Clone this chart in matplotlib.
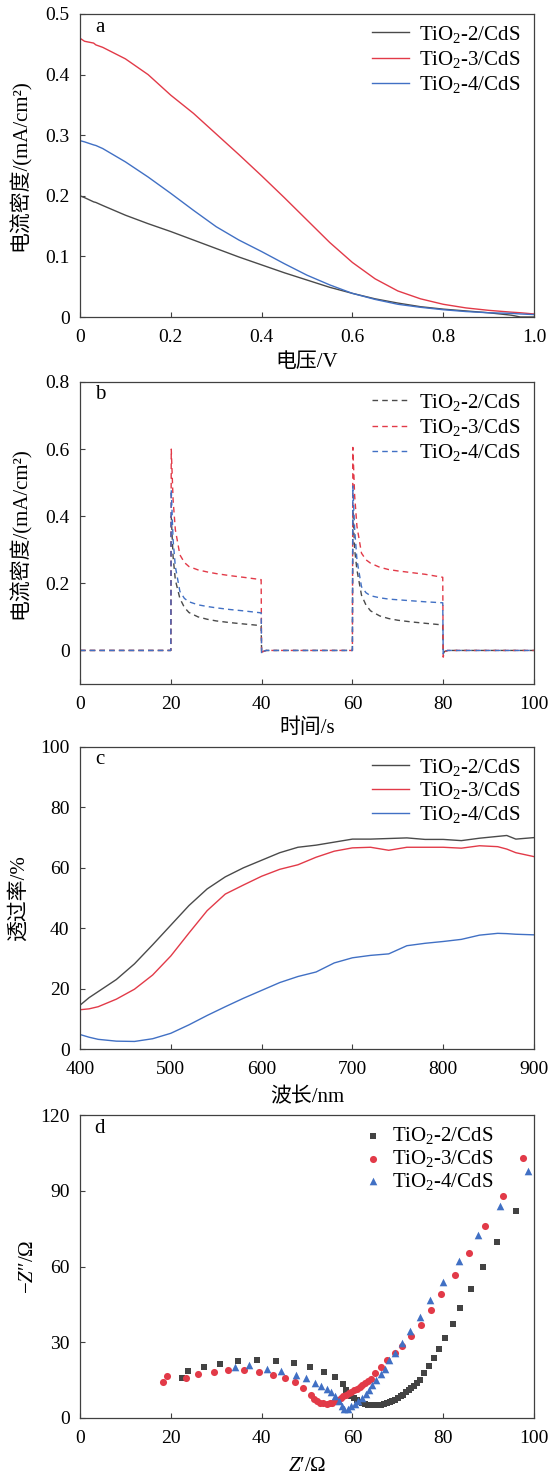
import matplotlib
matplotlib.use("Agg")
import matplotlib.pyplot as plt

plt.rcParams['font.family'] = ['Liberation Serif', 'Noto Sans CJK SC']
plt.rcParams['mathtext.fontset'] = 'custom'
plt.rcParams['mathtext.rm'] = 'Liberation Serif'
plt.rcParams['mathtext.it'] = 'Liberation Serif:italic'
plt.rcParams['font.size'] = 14
plt.rcParams['axes.unicode_minus'] = True

labels = ['TiO$_2$-2/CdS', 'TiO$_2$-3/CdS', 'TiO$_2$-4/CdS']

# ---- panel a : J-V ----
va = [0, 0.01, 0.03, 0.035, 0.05, 0.1, 0.15, 0.2, 0.25, 0.3, 0.35, 0.4, 0.45, 0.5, 0.55, 0.6, 0.65, 0.7, 0.75, 0.8, 0.85, 0.9, 0.95, 0.97, 1.0]
ja_2 = [0.200, 0.197, 0.190, 0.189, 0.184, 0.168, 0.154, 0.141, 0.127, 0.113, 0.099, 0.086, 0.073, 0.061, 0.049, 0.039, 0.030, 0.023, 0.017, 0.013, 0.010, 0.007, 0.003, 0.0, 0.0]
ja_3 = [0.460, 0.455, 0.452, 0.449, 0.445, 0.426, 0.400, 0.366, 0.336, 0.302, 0.268, 0.233, 0.197, 0.160, 0.123, 0.090, 0.063, 0.043, 0.030, 0.021, 0.015, 0.011, 0.008, 0.007, 0.005]
ja_4 = [0.291, 0.289, 0.284, 0.283, 0.278, 0.256, 0.231, 0.204, 0.176, 0.149, 0.127, 0.108, 0.088, 0.069, 0.053, 0.039, 0.029, 0.021, 0.016, 0.012, 0.009, 0.007, 0.006, 0.005, 0.004]

# ---- panel b : transient photocurrent ----
tb = [0, 20, 20.1, 20.5, 21, 22, 23, 24, 26, 28, 30, 33, 36, 39.9, 40, 40.3, 41,
      60, 60.1, 60.5, 61, 62, 63, 64, 66, 68, 70, 73, 76, 79.9, 80, 80.3, 81, 100]
jb_2 = [0, 0, 0.40, 0.28, 0.21, 0.155, 0.128, 0.113, 0.100, 0.093, 0.088, 0.083, 0.079, 0.074, -0.005, -0.003, 0,
        0, 0.42, 0.30, 0.24, 0.165, 0.135, 0.118, 0.103, 0.095, 0.090, 0.085, 0.081, 0.076, -0.01, -0.003, 0, 0]
jb_3 = [0, 0, 0.60, 0.45, 0.36, 0.285, 0.262, 0.250, 0.240, 0.234, 0.229, 0.223, 0.218, 0.211, -0.012, -0.003, 0,
        0, 0.605, 0.46, 0.37, 0.290, 0.270, 0.260, 0.248, 0.241, 0.237, 0.232, 0.227, 0.218, -0.02, -0.004, 0, 0]
jb_4 = [0, 0, 0.48, 0.33, 0.25, 0.176, 0.155, 0.145, 0.136, 0.131, 0.127, 0.122, 0.118, 0.112, -0.01, -0.003, 0,
        0, 0.49, 0.36, 0.27, 0.190, 0.172, 0.163, 0.157, 0.153, 0.151, 0.148, 0.145, 0.142, -0.01, -0.002, 0, 0]

# ---- panel c : transmittance ----
wl = [400, 410, 420, 440, 460, 480, 500, 520, 540, 560, 580, 600, 620, 640, 660, 680, 700, 720, 740, 760, 780, 800, 820, 840, 860, 870, 880, 900]
tr_2 = [14.5, 17.0, 19.0, 23.0, 28.2, 34.5, 41.0, 47.5, 53.0, 57.0, 60.0, 62.5, 65.0, 66.8, 67.5, 68.5, 69.5, 69.5, 69.7, 69.9, 69.4, 69.4, 69.0, 69.8, 70.4, 70.7, 69.5, 70.0]
tr_3 = [13.0, 13.3, 14.0, 16.5, 19.8, 24.5, 30.8, 38.4, 45.8, 51.3, 54.3, 57.2, 59.5, 61.0, 63.5, 65.5, 66.6, 66.8, 65.8, 66.8, 66.8, 66.8, 66.5, 67.3, 67.0, 66.2, 65.0, 63.7]
tr_4 = [4.8, 3.9, 3.2, 2.6, 2.5, 3.4, 5.2, 8.0, 11.1, 14.0, 16.8, 19.4, 22.0, 24.0, 25.5, 28.5, 30.2, 31.0, 31.5, 34.2, 35.0, 35.6, 36.3, 37.7, 38.3, 38.2, 38.0, 37.8]

# ---- panel d : Nyquist ----
zr_2 = [22.4, 23.8, 27.3, 30.8, 34.9, 39.0, 43.2, 47.1, 50.7, 53.7, 56.1, 57.9,
        58.6, 59.2, 59.8, 60.4, 61.0, 61.6, 62.2, 62.8, 63.4, 64.0, 64.6, 65.2, 65.8, 66.4, 67.0, 67.6, 68.2,
        68.8, 69.4, 70.0, 70.6, 71.2, 71.8, 72.4, 73.0, 73.6, 74.2, 74.8, 75.7, 76.9, 77.9, 79.1, 80.5,
        82.1, 83.8, 86.1, 88.7, 91.9, 96.1]
zi_2 = [16.0, 18.5, 20.2, 21.5, 22.6, 23.0, 22.6, 21.7, 20.2, 18.2, 16.4, 13.3,
        11.0, 9.8, 8.8, 7.9, 7.1, 6.5, 6.0, 5.6, 5.3, 5.1, 5.0, 5.0, 5.1, 5.3, 5.6, 5.9, 6.3,
        6.8, 7.3, 7.9, 8.6, 9.3, 10.1, 11.0, 11.9, 12.8, 13.8, 15.0, 17.8, 20.6, 23.8, 27.5, 31.8,
        37.1, 43.5, 51.0, 59.9, 69.9, 82.1]
zr_3 = [18.2, 19.1, 23.4, 25.9, 29.5, 32.7, 36.2, 39.5, 42.5, 45.1, 47.3, 49.2, 50.8,
        51.6, 52.3, 52.9, 53.6, 54.3, 55.0, 55.6, 56.2, 56.8, 57.4, 58.0, 58.6, 59.2, 59.8, 60.4, 61.0,
        61.6, 62.2, 62.8, 63.4, 64.0, 65.0, 66.2, 67.7, 69.3, 71.0, 73.0, 75.0, 77.3, 79.6, 82.5,
        85.6, 89.2, 93.1, 97.6]
zi_3 = [14.3, 16.5, 15.7, 17.4, 18.1, 18.9, 18.9, 18.2, 17.2, 15.9, 14.3, 11.9, 9.0,
        7.7, 6.6, 6.1, 5.8, 5.7, 5.8, 6.1, 6.6, 7.3, 8.0, 8.6, 9.2, 9.8, 10.4, 11.0, 11.6,
        12.3, 13.0, 13.8, 14.7, 15.6, 17.8, 20.2, 22.9, 25.6, 28.7, 32.4, 37.0, 42.6, 49.0, 56.6,
        65.4, 76.0, 88.1, 102.8]
zr_4 = [34.2, 37.2, 41.2, 44.3, 47.5, 49.8, 51.7, 53.1, 54.3, 55.3, 56.2, 57.0, 57.6, 58.2, 59.0,
        59.7, 60.5, 61.3, 62.1, 62.9, 63.6, 64.4, 65.2, 66.2, 67.1, 68.1, 69.3, 70.9, 72.6, 74.8,
        77.1, 80.0, 83.5, 87.6, 92.6, 98.7]
zi_4 = [20.2, 20.9, 19.6, 18.8, 17.2, 15.9, 14.0, 12.7, 11.6, 10.2, 8.6, 6.6, 4.6, 3.7, 3.7,
        4.6, 5.7, 6.7, 7.9, 9.4, 11.2, 13.0, 14.9, 17.3, 19.6, 22.9, 25.9, 29.9, 34.5, 40.0,
        46.6, 53.9, 62.2, 72.3, 83.9, 97.9]

c_gray = '#4a4a4a'
c_red = '#e23a48'
c_blue = '#4170c4'
cjk = ['Liberation Serif', 'Noto Sans CJK SC']
LFS = 15

fig = plt.figure(figsize=(5.54, 14.76), dpi=100)
L, W = 80 / 554, 454 / 554


def mkax(top_px, bot_px):
    b = 1 - bot_px / 1476
    h = (bot_px - top_px) / 1476
    ax = fig.add_axes([L, b, W, h])
    for s in ax.spines.values():
        s.set_color('#404040')
        s.set_linewidth(0.9)
    ax.tick_params(direction='in', length=3.5, width=0.8, color='#404040',
                   labelsize=14, top=False, right=False)
    ax.tick_params(axis='x', pad=8.5)
    ax.tick_params(axis='y', pad=7.5)
    return ax


def legend(ax, spacing, **kw):
    kw.setdefault('handlelength', 1.8)
    kw.setdefault('bbox_to_anchor', (0.988, 0.996))
    lg = ax.legend(loc='upper right', frameon=False, fontsize=LFS, labelspacing=spacing,
                   handletextpad=0.45, borderaxespad=0.0, **kw)
    return lg


def letter(ax, s):
    ax.text(0.044, 0.957, s, transform=ax.transAxes, fontsize=LFS, ha='center', va='center')


# a
ax = mkax(14, 317)
ax.plot(va, ja_2, color=c_gray, lw=1.0, label=labels[0])
ax.plot(va, ja_3, color=c_red, lw=1.0, label=labels[1])
ax.plot(va, ja_4, color=c_blue, lw=1.0, label=labels[2])
ax.set_xlim(0, 1.0)
ax.set_ylim(0, 0.5)
ax.set_xticks([0, 0.2, 0.4, 0.6, 0.8, 1.0], ['0', '0.2', '0.4', '0.6', '0.8', '1.0'])
ax.set_yticks([0, 0.1, 0.2, 0.3, 0.4, 0.5], ['0', '0.1', '0.2', '0.3', '0.4', '0.5'])
ax.set_xlabel('电压/V', family=cjk, fontsize=LFS, labelpad=5)
ax.set_ylabel('电流密度/(mA/cm²)', family=cjk, fontsize=LFS, labelpad=10)
legend(ax, 0.21)
letter(ax, 'a')

# b
ax = mkax(382, 684)
ds = (0, (4, 3))
ax.plot(tb, jb_2, color=c_gray, lw=1.0, ls=ds, label=labels[0])
ax.plot(tb, jb_3, color=c_red, lw=1.0, ls=ds, label=labels[1])
ax.plot(tb, jb_4, color=c_blue, lw=1.0, ls=ds, label=labels[2])
ax.set_xlim(0, 100)
ax.set_ylim(-0.1, 0.8)
ax.set_xticks([0, 20, 40, 60, 80, 100])
ax.set_yticks([0, 0.2, 0.4, 0.6, 0.8], ['0', '0.2', '0.4', '0.6', '0.8'])
ax.set_xlabel('时间/s', family=cjk, fontsize=LFS, labelpad=4)
ax.set_ylabel('电流密度/(mA/cm²)', family=cjk, fontsize=LFS, labelpad=10)
legend(ax, 0.21)
letter(ax, 'b')

# c
ax = mkax(747, 1049)
ax.plot(wl, tr_2, color=c_gray, lw=1.0, label=labels[0])
ax.plot(wl, tr_3, color=c_red, lw=1.0, label=labels[1])
ax.plot(wl, tr_4, color=c_blue, lw=1.0, label=labels[2])
ax.set_xlim(400, 900)
ax.set_ylim(0, 100)
ax.set_xticks([400, 500, 600, 700, 800, 900])
ax.set_yticks([0, 20, 40, 60, 80, 100])
ax.set_xlabel('波长/nm', family=cjk, fontsize=LFS, labelpad=7)
ax.set_ylabel('透过率/%', family=cjk, fontsize=LFS, labelpad=8)
legend(ax, 0.13)
letter(ax, 'c')

# d
ax = mkax(1115, 1418)
ax.scatter(zr_2, zi_2, marker='s', s=18, color='#434343', linewidths=0, label=labels[0], zorder=3)
ax.scatter(zr_3, zi_3, marker='o', s=26, color=c_red, linewidths=0, label=labels[1], zorder=3)
ax.scatter(zr_4, zi_4, marker='^', s=30, color=c_blue, linewidths=0, label=labels[2], zorder=3)
ax.set_xlim(0, 100)
ax.set_ylim(0, 120)
ax.set_xticks([0, 20, 40, 60, 80, 100])
ax.set_yticks([0, 30, 60, 90, 120])
ax.set_xlabel('$Z$′/Ω', fontsize=LFS, labelpad=7)
ax.set_ylabel('−$Z$″/Ω', fontsize=LFS, labelpad=1.5)
legend(ax, 0.08, scatterpoints=1, handlelength=1.0, borderpad=0.4, bbox_to_anchor=(0.93, 0.9935))
letter(ax, 'd')

fig.savefig('out.png', dpi=100)
